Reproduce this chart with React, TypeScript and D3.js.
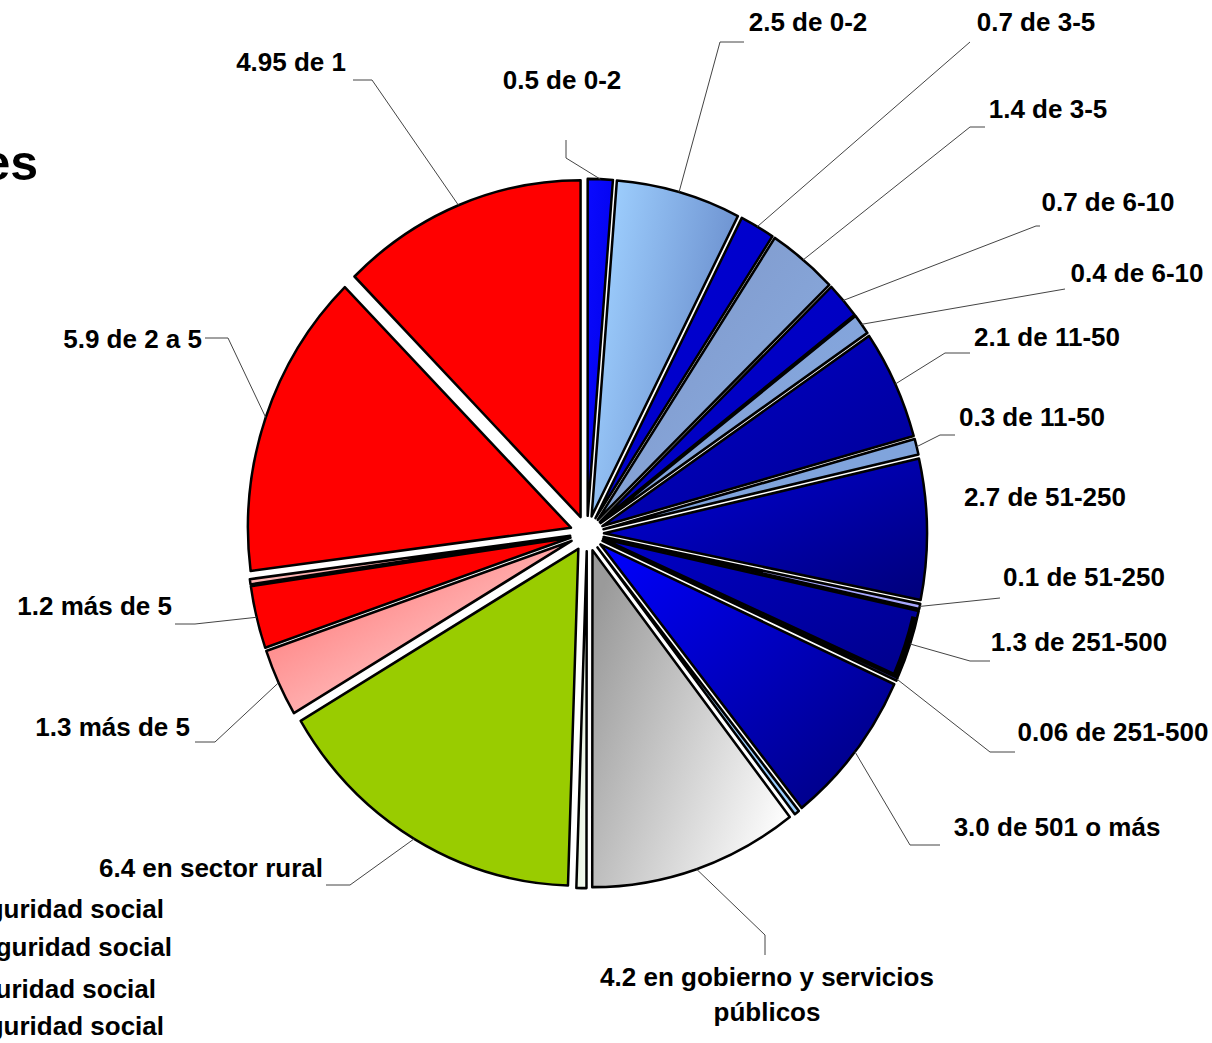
import React from "react";
import * as d3 from "d3";

// ---------- data ----------
const categories = [
  "0.5 de 0-2", "2.5 de 0-2", "0.7 de 3-5", "1.4 de 3-5", "0.7 de 6-10", "0.4 de 6-10",
  "2.1 de 11-50", "0.3 de 11-50", "2.7 de 51-250", "0.1 de 51-250", "1.3 de 251-500",
  "0.06 de 251-500", "3.0 de 501 o más", "", "4.2 en gobierno y servicios|públicos", "",
  "6.4 en sector rural", "1.3 más de 5", "1.2 más de 5", "", "5.9 de 2 a 5", "4.95 de 1",
];
const values = [
  0.5, 2.5, 0.7, 1.4, 0.7, 0.4, 2.1, 0.3, 2.7, 0.1, 1.3, 0.06, 3.0, 0.1, 4.2, 0.2,
  6.4, 1.3, 1.2, 0.1, 5.9, 4.95,
];
const legendLines = ["seguridad social", "seguridad social", "seguridad social", "seguridad social"];
const titleText = "es";

// ---------- styles (per slice: [colorStart, colorEnd, x1, y1, x2, y2]) ----------
const fills: [string, string, number, number, number, number][] = [
  ["#0a0aff", "#0000e6", 0, 0, 1, 1],
  ["#9fd0ff", "#6385c6", 0, 0.3, 1, 0.7],
  ["#0000d8", "#0000c0", 0, 0, 1, 1],
  ["#7d94c6", "#8cb0e4", 0, 0, 1, 1],
  ["#0000d0", "#0000b8", 0, 0, 1, 1],
  ["#7f9fd6", "#88aae0", 0, 0, 1, 1],
  ["#0000d0", "#000090", 0, 0, 1, 1],
  ["#80a4dc", "#80a4dc", 0, 0, 1, 1],
  ["#0000dc", "#00007a", 0, 0, 1, 1],
  ["#a8a8ff", "#a8a8ff", 0, 0, 1, 1],
  ["#0000c8", "#00008a", 0, 0, 1, 1],
  ["#3a3a9a", "#2a2a80", 0, 0, 1, 1],
  ["#0000ff", "#00007a", 0, 0, 1, 1],
  ["#9dcfff", "#9dcfff", 0, 0, 1, 1],
  ["#9a9a9a", "#ffffff", 0, 0.2, 1, 0.8],
  ["#e0eed8", "#f4faf0", 0, 0, 1, 1],
  ["#99cc00", "#99cc00", 0, 0, 1, 1],
  ["#ff6464", "#ffeaea", 0, 0, 1, 1],
  ["#ff0000", "#ff0000", 0, 0, 1, 1],
  ["#ffb4b4", "#ffb4b4", 0, 0, 1, 1],
  ["#ff0000", "#ff0000", 0, 0, 1, 1],
  ["#ff0000", "#ff0000", 0, 0, 1, 1],
];

// ---------- layout ----------
const W = 1212, H = 1043;
const CX = 587, CY = 533.5, R = 323, SY = 1.043, EXPLODE = 17;
const FONT = "'Liberation Sans', Arial, Helvetica, sans-serif";
const FS = 26;

// label placement: [x, baseline y, anchor, elbowX, elbowY, endX, endY] (null leader = none)
const labelLayout: Record<number, [number, number, string, number | null, number | null, number | null, number | null]> = {
  0: [562, 89, "middle", 566, 158, 566, 140],
  1: [808, 31, "middle", 720, 42, 744, 42],
  2: [1036, 31, "middle", 970, 42, 970, 42],
  3: [1048, 118, "middle", 970, 127, 985, 127],
  4: [1108, 211, "middle", 1036, 226, 1040, 226],
  5: [1137, 282, "middle", 1065, 289, 1065, 289],
  6: [1047, 346, "middle", 945, 353, 970, 353],
  7: [1032, 426, "middle", 940, 435, 955, 435],
  8: [1045, 506, "middle", null, null, null, null],
  9: [1084, 586, "middle", 1000, 598, 1000, 598],
  10: [1079, 651, "middle", 970, 661, 990, 661],
  11: [1113, 741, "middle", 990, 752, 1015, 752],
  12: [1057, 836, "middle", 910, 845, 940, 845],
  14: [767, 986, "middle", 765, 935, 765, 955],
  16: [323, 877, "end", 350, 885, 326, 885],
  17: [190, 736, "end", 215, 742, 195, 742],
  18: [172, 615, "end", 195, 624, 175, 624],
  20: [202, 348, "end", 228, 338, 205, 338],
  21: [346, 71, "end", 372, 80, 353, 80],
};
const legendLayout: [number, number][] = [[164, 918], [172, 956], [156, 998], [164, 1035]];

export default function App() {
  const pie = d3.pie<number>().sort(null).value((d) => d);
  const arcs = pie(values);
  const arcGen = d3.arc<d3.PieArcDatum<number>>().innerRadius(0).outerRadius(R);
  const bandGen = d3.arc<d3.PieArcDatum<number>>().innerRadius(R - 6).outerRadius(R);

  const offset = (a: d3.PieArcDatum<number>) => {
    const m = (a.startAngle + a.endAngle) / 2;
    return [EXPLODE * Math.sin(m), -EXPLODE * Math.cos(m)];
  };
  const attach = (a: d3.PieArcDatum<number>) => {
    const m = (a.startAngle + a.endAngle) / 2;
    const rr = R + EXPLODE;
    return [CX + rr * Math.sin(m), CY - rr * Math.cos(m) * SY];
  };

  return (
    <svg width={W} height={H} style={{ position: "absolute", left: 0, top: 0, background: "#fff" }}
      xmlns="http://www.w3.org/2000/svg">
      <defs>
        {fills.map((f, i) => (
          <linearGradient key={i} id={`g${i}`} x1={f[2]} y1={f[3]} x2={f[4]} y2={f[5]}>
            <stop offset="0" stopColor={f[0]} />
            <stop offset="1" stopColor={f[1]} />
          </linearGradient>
        ))}
      </defs>
      <rect x={0} y={0} width={W} height={H} fill="#fff" />

      <g transform={`translate(${CX},${CY}) scale(1,${SY})`}>
        {arcs.map((a, i) => {
          const [dx, dy] = offset(a);
          return (
            <g key={i} transform={`translate(${dx},${dy})`}>
              <path d={arcGen(a) || ""} fill={`url(#g${i})`} stroke="#000" strokeWidth={2.5}
                strokeLinejoin="round" />
              {i === 10 && (
                <path d={bandGen({ ...a, startAngle: a.startAngle + 0.02, endAngle: a.endAngle }) || ""}
                  fill="#000" />
              )}
            </g>
          );
        })}
      </g>

      {/* leader lines */}
      {arcs.map((a, i) => {
        const L = labelLayout[i];
        if (!L || L[3] === null) return null;
        const [px, py] = attach(a);
        return (
          <polyline key={`l${i}`} points={`${px},${py} ${L[3]},${L[4]} ${L[5]},${L[6]}`}
            fill="none" stroke="#444" strokeWidth={1} />
        );
      })}

      {/* labels */}
      {arcs.map((a, i) => {
        const L = labelLayout[i];
        if (!L || !categories[i]) return null;
        const lines = categories[i].split("|");
        return (
          <text key={`t${i}`} x={L[0]} y={L[1]} textAnchor={L[2] as any} fontFamily={FONT}
            fontWeight="bold" fontSize={FS} fill="#000">
            {lines.map((ln, k) => (
              <tspan key={k} x={L[0]} dy={k === 0 ? 0 : 35}>{ln}</tspan>
            ))}
          </text>
        );
      })}

      {/* cut-off title and legend */}
      <text x={38} y={180} textAnchor="end" fontFamily={FONT} fontWeight="bold" fontSize={50}>
        {titleText}
      </text>
      {legendLines.map((t, i) => (
        <text key={`lg${i}`} x={legendLayout[i][0]} y={legendLayout[i][1]} textAnchor="end"
          fontFamily={FONT} fontWeight="bold" fontSize={FS}>
          {t}
        </text>
      ))}
    </svg>
  );
}
